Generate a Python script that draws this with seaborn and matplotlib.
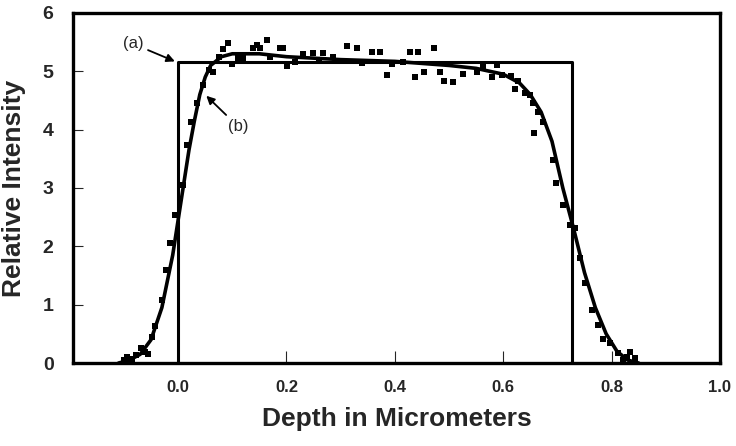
import numpy as np
import pandas as pd
import matplotlib
matplotlib.use("Agg")
import matplotlib.pyplot as plt
import seaborn as sns

# (a) ideal step profile
step_x = [0.0, 0.0, 0.727, 0.727]
step_y = [0.0, 5.16, 5.16, 0.0]

# (b) fitted curve
fit_x = [-0.11, -0.09, -0.07, -0.05, -0.03, -0.01, 0.0, 0.01, 0.02, 0.03, 0.04,
         0.05, 0.06, 0.08, 0.10, 0.15, 0.20, 0.30, 0.40, 0.50, 0.55, 0.60, 0.63,
         0.65, 0.67, 0.69, 0.71, 0.73, 0.75, 0.77, 0.79, 0.81, 0.83, 0.85]
fit_y = [0.0, 0.05, 0.15, 0.40, 0.95, 1.85, 2.45, 3.05, 3.65, 4.15, 4.60,
         4.90, 5.10, 5.25, 5.30, 5.30, 5.25, 5.20, 5.17, 5.10, 5.05, 4.95, 4.80,
         4.60, 4.30, 3.80, 3.00, 2.30, 1.55, 0.95, 0.50, 0.20, 0.05, 0.0]

# measured points
pts_x = [-0.100, -0.094, -0.085, -0.077, -0.068, -0.061, -0.055, -0.048, -0.042,
         -0.030, -0.022, -0.015, -0.006, 0.009, 0.017, 0.024, 0.035, 0.046, 0.057,
         0.065, 0.076, 0.083, 0.092, 0.100, 0.111, 0.120, 0.138, 0.146, 0.151,
         0.164, 0.170, 0.188, 0.194, 0.201, 0.216, 0.231, 0.249, 0.260, 0.268,
         0.286, 0.312, 0.330, 0.339, 0.358, 0.373, 0.386, 0.395, 0.415, 0.428,
         0.437, 0.443, 0.454, 0.472, 0.483, 0.491, 0.507, 0.526, 0.552, 0.563,
         0.579, 0.589, 0.598, 0.614, 0.622, 0.627, 0.640, 0.649, 0.655, 0.657,
         0.664, 0.673, 0.692, 0.697, 0.710, 0.723, 0.732, 0.742, 0.751, 0.764,
         0.775, 0.784, 0.797, 0.812, 0.821, 0.828, 0.834, 0.843]
pts_y = [0.06, 0.10, 0.07, 0.14, 0.26, 0.19, 0.15, 0.45, 0.63,
         1.08, 1.59, 2.06, 2.54, 3.05, 3.74, 4.13, 4.46, 4.77, 5.02,
         4.99, 5.25, 5.38, 5.49, 5.13, 5.23, 5.22, 5.40, 5.45, 5.40,
         5.54, 5.25, 5.40, 5.40, 5.09, 5.16, 5.30, 5.31, 5.20, 5.31,
         5.25, 5.43, 5.40, 5.14, 5.33, 5.33, 4.94, 5.13, 5.16, 5.33,
         4.90, 5.33, 4.99, 5.40, 4.99, 4.83, 4.82, 4.95, 4.99, 5.07,
         4.90, 5.11, 4.94, 4.92, 4.70, 4.83, 4.63, 4.59, 4.46, 3.94,
         4.30, 4.13, 3.48, 3.08, 2.71, 2.37, 2.31, 1.80, 1.37, 0.91,
         0.65, 0.41, 0.34, 0.17, 0.05, 0.10, 0.19, 0.09]

x_ticks = [0.0, 0.2, 0.4, 0.6, 0.8, 1.0]
x_ticklabels = ["0.0", "0.2", "0.4", "0.6", "0.8", "1.0"]
y_ticks = [0, 1, 2, 3, 4, 5, 6]

sns.set_style("ticks")
plt.rcParams['font.family'] = ['Liberation Sans', 'DejaVu Sans']

fig = plt.figure(figsize=(7.36, 4.46), dpi=100)
ax = fig.add_axes([0.0992, 0.186, 0.879, 0.785])

step_df = pd.DataFrame({"x": step_x, "y": step_y})
fit_df = pd.DataFrame({"x": fit_x, "y": fit_y})
pts_df = pd.DataFrame({"x": pts_x, "y": pts_y})

sns.lineplot(data=step_df, x="x", y="y", ax=ax, sort=False, estimator=None,
             color="black", linewidth=2.2)
sns.lineplot(data=fit_df, x="x", y="y", ax=ax, sort=False, estimator=None,
             color="black", linewidth=2.6)
sns.scatterplot(data=pts_df, x="x", y="y", ax=ax, marker="s", s=24,
                color="black", linewidth=0, zorder=3)

ax.set_xlim(-0.194, 1.0)
ax.set_ylim(0, 6)
ax.set_xticks(x_ticks)
ax.set_xticklabels(x_ticklabels)
ax.set_yticks(y_ticks)
ax.tick_params(axis="x", direction="in", length=9, width=0.8, pad=12,
               labelsize=12)
ax.tick_params(axis="y", direction="in", length=7, width=0.8, pad=14,
               labelsize=14)
for lab in ax.get_xticklabels() + ax.get_yticklabels():
    lab.set_fontweight("bold")
for sp in ax.spines.values():
    sp.set_linewidth(2.4)
    sp.set_color("black")

ax.set_xlabel("Depth in Micrometers", fontsize=19, fontweight="bold", labelpad=9)
ax.set_ylabel("Relative Intensity", fontsize=19, fontweight="bold", labelpad=12)

ax.annotate("(a)", xy=(-0.006, 5.17), xytext=(-0.083, 5.47),
            fontsize=12, ha="center", va="center",
            arrowprops=dict(arrowstyle="-|>", color="black", lw=1.3,
                            shrinkA=1, shrinkB=0, mutation_scale=12))
ax.annotate("(b)", xy=(0.052, 4.58), xytext=(0.111, 4.05),
            fontsize=12, ha="center", va="center",
            arrowprops=dict(arrowstyle="-|>", color="black", lw=1.3,
                            shrinkA=1, shrinkB=0, mutation_scale=12))

fig.savefig("out.png", dpi=100)
